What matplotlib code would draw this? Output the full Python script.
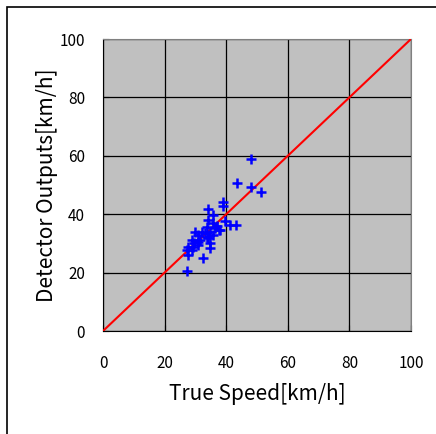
import matplotlib
matplotlib.use('Agg')
import matplotlib.pyplot as plt
from matplotlib.patches import Rectangle

plt.rcParams['font.family'] = ['Noto Sans CJK JP', 'DejaVu Sans']

# ================= DATA =================
true_speed = [48.1, 43.4, 48.1, 51.3, 39.1, 39.1, 39.6, 41.2, 43.2, 38.0,
              34.2, 35.8, 34.2, 35.8, 33.7, 36.4, 29.9, 32.0, 34.7, 30.9,
              33.7, 35.8, 28.8, 31.5, 34.2, 34.7, 27.7, 29.3, 30.9, 34.7,
              27.2, 28.8, 27.7, 32.6, 27.2, 36.9, 37.5, 31.0, 29.5, 33.0]
detector_out = [58.9, 50.6, 49.2, 47.7, 44.3, 42.8, 37.7, 36.3, 36.3, 34.6,
                41.8, 39.7, 38.0, 36.9, 35.7, 35.2, 34.0, 34.0, 34.0, 32.9,
                32.3, 32.9, 31.2, 31.2, 31.7, 30.0, 28.9, 28.9, 29.5, 28.3,
                27.7, 27.7, 26.0, 24.9, 20.5, 36.0, 34.5, 30.5, 30.0, 33.5]
ideal = [0, 100]
ticks = [0, 20, 40, 60, 80, 100]

# ================= PLOT =================
fig = plt.figure(figsize=(4.36, 4.34), dpi=100)
ax = fig.add_axes([103 / 436, 1 - 331 / 434, 308 / 436, 292 / 434])
ax.set_facecolor('#C0C0C0')

ax.plot(ideal, ideal, color='#FF0000', lw=1.5, zorder=3)
ax.scatter(true_speed, detector_out, marker='+', s=60, color='#0000FF',
           linewidths=1.8, zorder=4, clip_on=False)

ax.set_xlim(0, 100)
ax.set_ylim(0, 100)
ax.set_xticks(ticks)
ax.set_yticks(ticks)
ax.grid(True, color='black', lw=0.9)
ax.set_axisbelow(True)
ax.tick_params(direction='in', length=4, labelsize=11, color='black')
ax.tick_params(axis='x', pad=17)
ax.tick_params(axis='y', pad=13)

for s in ['top', 'right']:
    ax.spines[s].set_color('#808080')
for s in ['left', 'bottom']:
    ax.spines[s].set_color('black')

ax.set_xlabel('True Speed[km/h]', fontsize=15, labelpad=8)
ax.set_ylabel('Detector Outputs[km/h]', fontsize=15, labelpad=1)

# outer frame (only top and left visible)
fig.patches.append(Rectangle((7 / 436, -0.05), 1.0, 1.05 - 7 / 434,
                             transform=fig.transFigure, fill=False,
                             edgecolor='black', lw=1.2))

fig.savefig('out.png', dpi=100)
